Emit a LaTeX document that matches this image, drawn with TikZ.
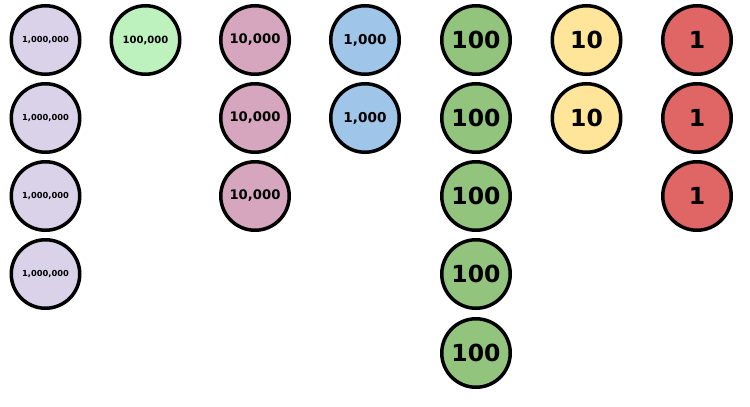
\documentclass[tikz,border=0pt]{standalone}
\usepackage{fontspec}
\setmainfont{DejaVu Sans}
\definecolor{cMil}{HTML}{D9D2E9}
\definecolor{cHTh}{HTML}{BDF2BF}
\definecolor{cTTh}{HTML}{D5A6BD}
\definecolor{cTh}{HTML}{9FC5E8}
\definecolor{cHun}{HTML}{93C47D}
\definecolor{cTen}{HTML}{FFE599}
\definecolor{cOne}{HTML}{E06666}
\tikzset{
  coin/.style={circle, draw=black, line width=3.5pt, minimum size=68.5pt, inner sep=0pt, font=\bfseries},
}
\begin{document}
\begin{tikzpicture}[x=1pt,y=-1pt]
\useasboundingbox (0,0) rectangle (750,407);
\foreach \r [count=\i] in {40,118,196,274}
  \node[coin, fill=cMil, font=\bfseries\fontsize{8.3}{9}\selectfont] (m\i) at (45.5,\r) {1,000,000};
\node[coin, fill=cHTh, font=\bfseries\fontsize{10}{11}\selectfont] (ht1) at (145.5,40) {100,000};
\foreach \r [count=\i] in {40,118,196}
  \node[coin, fill=cTTh, font=\bfseries\fontsize{13.2}{14}\selectfont] (tt\i) at (255,\r) {10,000};
\foreach \r [count=\i] in {40,118}
  \node[coin, fill=cTh, font=\bfseries\fontsize{13.6}{15}\selectfont] (th\i) at (365,\r) {1,000};
\foreach \r [count=\i] in {40,118,196,274,353}
  \node[coin, fill=cHun, font=\bfseries\fontsize{23.5}{25}\selectfont] (h\i) at (476,\r) {100};
\foreach \r [count=\i] in {40,118}
  \node[coin, fill=cTen, font=\bfseries\fontsize{23.5}{25}\selectfont] (t\i) at (586.5,\r) {10};
\foreach \r [count=\i] in {40,118,196}
  \node[coin, fill=cOne, font=\bfseries\fontsize{23.5}{25}\selectfont] (o\i) at (697,\r) {1};
\end{tikzpicture}
\end{document}
